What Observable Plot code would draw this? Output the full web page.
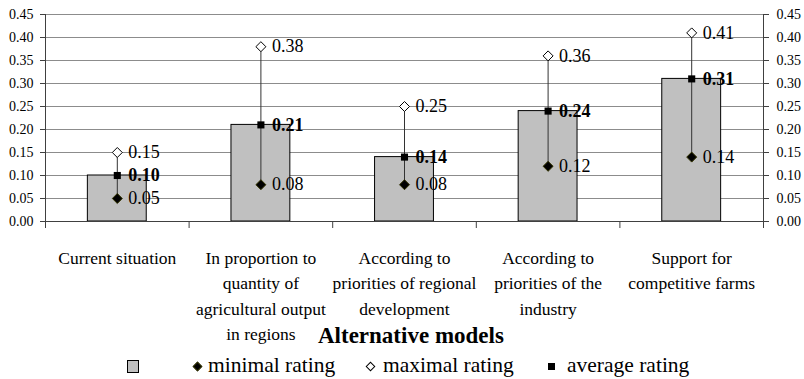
<!DOCTYPE html>
<html>
<head>
<meta charset="utf-8">
<script src="https://cdn.jsdelivr.net/npm/d3@7"></script>
<script src="https://cdn.jsdelivr.net/npm/@observablehq/plot@0.6"></script>
<style>
  html, body { margin: 0; padding: 0; background: white; }
  #wrap { position: relative; width: 804px; height: 379px; overflow: hidden; font-family: "Liberation Serif", "Times New Roman", serif; color: black; }
  #title { position: absolute; left: 318px; top: 324px; font-size: 23px; line-height: 23px; font-weight: bold; white-space: nowrap; }
  .lg { position: absolute; top: 355px; font-size: 21.5px; line-height: 21.5px; white-space: nowrap; }
  .sw { position: absolute; box-sizing: border-box; }
</style>
</head>
<body>
<div id="wrap"></div>
<script>
const categories = [
  "Current situation",
  "In proportion to\nquantity of\nagricultural output\nin regions",
  "According to\npriorities of regional\ndevelopment",
  "According to\npriorities of the\nindustry",
  "Support for\ncompetitive farms"
];
const minRating = [0.05, 0.08, 0.08, 0.12, 0.14];
const maxRating = [0.15, 0.38, 0.25, 0.36, 0.41];
const avgRating = [0.10, 0.21, 0.14, 0.24, 0.31];
const yTicks = [0, 0.05, 0.10, 0.15, 0.20, 0.25, 0.30, 0.35, 0.40, 0.45];
const legendLabels = ["minimal rating", "maximal rating", "average rating"];
const xTitle = "Alternative models";

const data = categories.map((c, i) => ({i, cat: c, min: minRating[i], max: maxRating[i], avg: avgRating[i]}));
const boundaries = d3.range(categories.length + 1).map(k => k - 0.5);
const fmt = d3.format(".2f");
const half = 0.205;

const chart = Plot.plot({
  width: 804,
  height: 345,
  marginTop: 14,
  marginBottom: 124,
  marginLeft: 45,
  marginRight: 41,
  style: {fontFamily: "Liberation Serif", fontSize: "14px", color: "black", background: "white", overflow: "visible"},
  x: {domain: [-0.5, categories.length - 0.5]},
  y: {domain: [0, 0.45]},
  marks: [
    Plot.ruleY(yTicks.filter(v => v > 0), {stroke: "#8c8c8c", strokeOpacity: 1}),
    Plot.rectY(data, {x1: d => d.i - half, x2: d => d.i + half, y1: 0, y2: "avg", fill: "#c0c0c0", stroke: "black", strokeWidth: 1}),
    Plot.ruleY([0], {stroke: "#404040"}),
    Plot.ruleX([boundaries[0], boundaries[boundaries.length - 1]], {y1: 0, y2: 0.45, stroke: "#404040"}),
    Plot.axisY({anchor: "left", ticks: yTicks, tickFormat: fmt, tickSize: 5, tickPadding: 7, fontSize: 14, label: null, stroke: "#404040"}),
    Plot.axisY({anchor: "right", ticks: yTicks, tickFormat: fmt, tickSize: 5, tickPadding: 8, fontSize: 14, label: null, stroke: "#404040"}),
    Plot.axisX({anchor: "bottom", ticks: boundaries, tickFormat: () => "", tickSize: 7, label: null, stroke: "#404040"}),
    Plot.text(data, {x: "i", y: 0, text: "cat", lineAnchor: "top", dy: 24.6, fontSize: 17.5, lineHeight: 1.45, fill: "black"}),
    Plot.ruleX(data, {x: "i", y1: "min", y2: "max", stroke: "#333"}),
    Plot.dot(data, {x: "i", y: "min", symbol: "diamond2", r: 4.5, fill: "black", stroke: "#333300", strokeWidth: 1}),
    Plot.dot(data, {x: "i", y: "max", symbol: "diamond2", r: 4.5, fill: "white", stroke: "black", strokeWidth: 1}),
    Plot.dot(data, {x: "i", y: "avg", symbol: "square", r: 4, fill: "black", stroke: "black", strokeWidth: 0}),
    Plot.text(data, {x: "i", y: "min", text: d => fmt(d.min), dx: 11, textAnchor: "start", fontSize: 18, fill: "black"}),
    Plot.text(data, {x: "i", y: "max", text: d => fmt(d.max), dx: 11, textAnchor: "start", fontSize: 18, fill: "black"}),
    Plot.text(data, {x: "i", y: "avg", text: d => fmt(d.avg), dx: 11, textAnchor: "start", fontSize: 18, fontWeight: "bold", fill: "black"})
  ]
});

const wrap = document.getElementById("wrap");
chart.style.position = "absolute";
chart.style.left = "0px";
chart.style.top = "0px";
wrap.appendChild(chart);

const title = document.createElement("div");
title.id = "title";
title.textContent = xTitle;
wrap.appendChild(title);

function addSwatch(css) {
  const s = document.createElement("div");
  s.className = "sw";
  Object.assign(s.style, css);
  wrap.appendChild(s);
}
function addLabel(text, left) {
  const l = document.createElement("div");
  l.className = "lg";
  l.style.left = left + "px";
  l.textContent = text;
  wrap.appendChild(l);
}
// bar swatch
addSwatch({left: "127px", top: "360px", width: "12px", height: "13px", background: "#c0c0c0", border: "1px solid black"});
// minimal: black diamond
addSwatch({left: "194px", top: "363px", width: "7px", height: "7px", background: "black", border: "1px solid #333300", transform: "rotate(45deg)"});
addLabel(legendLabels[0], 208);
// maximal: open diamond
addSwatch({left: "367px", top: "363px", width: "7px", height: "7px", background: "white", border: "1px solid black", transform: "rotate(45deg)"});
addLabel(legendLabels[1], 383);
// average: black square
addSwatch({left: "548px", top: "363px", width: "7px", height: "7px", background: "black"});
addLabel(legendLabels[2], 567);
</script>
</body>
</html>
